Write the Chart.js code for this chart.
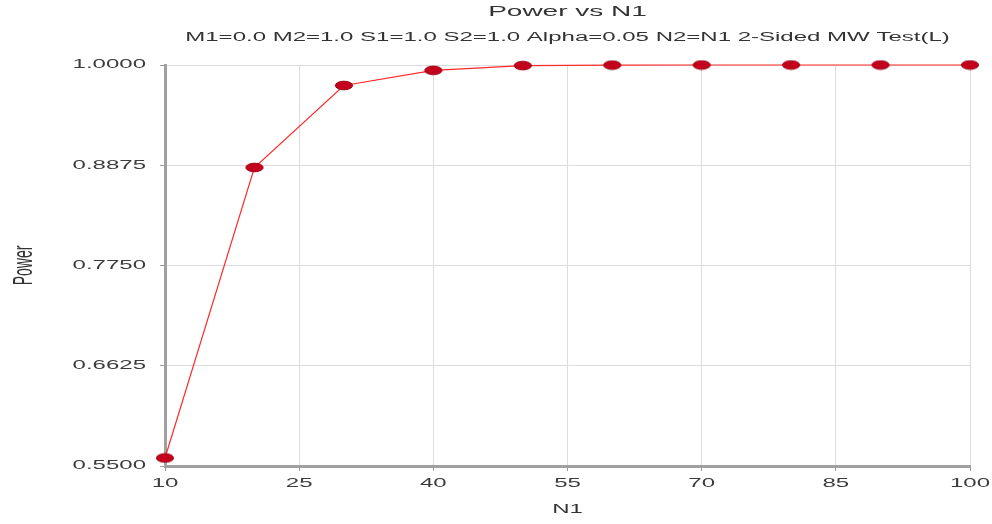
<!DOCTYPE html>
<html>
<head>
<meta charset="utf-8">
<script src="https://cdn.jsdelivr.net/npm/chart.js@4"></script>
<style>
  html, body { margin: 0; padding: 0; background: #fff; }
  #wrap { width: 992px; height: 524px; }
</style>
</head>
<body>
<div id="wrap"><canvas id="c" width="992" height="524"></canvas></div>
<script>
// Sample sizes per group and the resulting power of the two-sided Mann-Whitney test
const n1Values = [10, 20, 30, 40, 50, 60, 70, 80, 90, 100];
const powerValues = [0.559, 0.885, 0.977, 0.994, 0.9993, 0.9999, 1.0, 1.0, 1.0, 1.0];

// Axis tick positions
const xTicks = [10, 25, 40, 55, 70, 85, 100];
const yTicks = [0.55, 0.6625, 0.775, 0.8875, 1.0];

const titleText = 'Power vs N1';
const subtitleText = 'M1=0.0 M2=1.0 S1=1.0 S2=1.0 Alpha=0.05 N2=N1 2-Sided MW Test(L)';

// All lettering is drawn wide: horizontal stretch applied around each text anchor
const TEXT_STRETCH = 2.0;

// Flattened oval marker
function makeMarker() {
  const cv = document.createElement('canvas');
  cv.width = 20; cv.height = 11;
  const g = cv.getContext('2d');
  g.beginPath();
  g.ellipse(10, 5.5, 8.6, 4.3, 0, 0, Math.PI * 2);
  g.fillStyle = '#c4001c';
  g.fill();
  g.lineWidth = 1;
  g.strokeStyle = '#9a0010';
  g.stroke();
  return cv;
}
const marker = makeMarker();

const wideText = {
  id: 'wideText',
  beforeInit(chart) {
    const ctx = chart.ctx;
    const orig = ctx.fillText.bind(ctx);
    ctx.fillText = function (text, x, y, maxWidth) {
      const m = ctx.getTransform();
      const p = m.transformPoint(new DOMPoint(x, y));
      ctx.save();
      ctx.setTransform(
        new DOMMatrix().translate(p.x, p.y).scale(TEXT_STRETCH, 1).translate(-p.x, -p.y).multiply(m)
      );
      if (maxWidth === undefined) orig(text, x, y); else orig(text, x, y, maxWidth);
      ctx.restore();
    };
  }
};

const FONT = "'Liberation Sans', Arial, sans-serif";

new Chart(document.getElementById('c'), {
  type: 'line',
  plugins: [wideText],
  data: {
    datasets: [{
      data: n1Values.map((n, i) => ({ x: n, y: powerValues[i] })),
      borderColor: '#ff2a2a',
      borderWidth: 1.2,
      pointStyle: marker,
      pointRadius: 6,
      pointHoverRadius: 6,
      tension: 0,
      clip: false
    }]
  },
  options: {
    responsive: false,
    animation: false,
    devicePixelRatio: 1,
    layout: { padding: { left: 0, right: 22, top: 0, bottom: 4 } },
    plugins: {
      legend: { display: false },
      tooltip: { enabled: false },
      title: {
        display: true,
        text: titleText,
        fullSize: false,
        color: '#333',
        font: { family: FONT, size: 14, weight: 'normal' },
        padding: { top: 4, bottom: 10 }
      },
      subtitle: {
        display: true,
        text: subtitleText,
        fullSize: false,
        color: '#333',
        font: { family: FONT, size: 12, weight: 'normal' },
        padding: { top: 0, bottom: 19.8 }
      }
    },
    scales: {
      x: {
        type: 'linear',
        min: 10,
        max: 100,
        afterBuildTicks: s => { s.ticks = xTicks.map(v => ({ value: v })); },
        afterFit: s => { s.height = 54; },
        grid: { color: '#dcdcdc', tickColor: '#999', tickLength: 5, lineWidth: 1 },
        border: { color: '#a0a0a0', width: 3 },
        ticks: {
          color: '#3c3c3c',
          font: { family: FONT, size: 12 },
          padding: 5,
          maxRotation: 0,
          autoSkip: false
        },
        title: {
          display: true,
          text: 'N1',
          color: '#333',
          font: { family: FONT, size: 12 },
          padding: { top: 0, bottom: 2.8 }
        }
      },
      y: {
        type: 'linear',
        min: 0.55,
        max: 1.0,
        afterBuildTicks: s => { s.ticks = yTicks.map(v => ({ value: v })); },
        afterFit: s => { s.width = 165; },
        grid: { color: '#dcdcdc', tickColor: '#999', tickLength: 5, lineWidth: 1 },
        border: { color: '#a0a0a0', width: 3 },
        ticks: {
          color: '#3c3c3c',
          font: { family: FONT, size: 12 },
          padding: 14,
          autoSkip: false,
          callback: v => Number(v).toFixed(4)
        },
        title: {
          display: true,
          text: 'Power',
          color: '#333',
          font: { family: FONT, size: 14 },
          padding: { top: 15.6, bottom: 0 }
        }
      }
    }
  }
});
</script>
</body>
</html>
